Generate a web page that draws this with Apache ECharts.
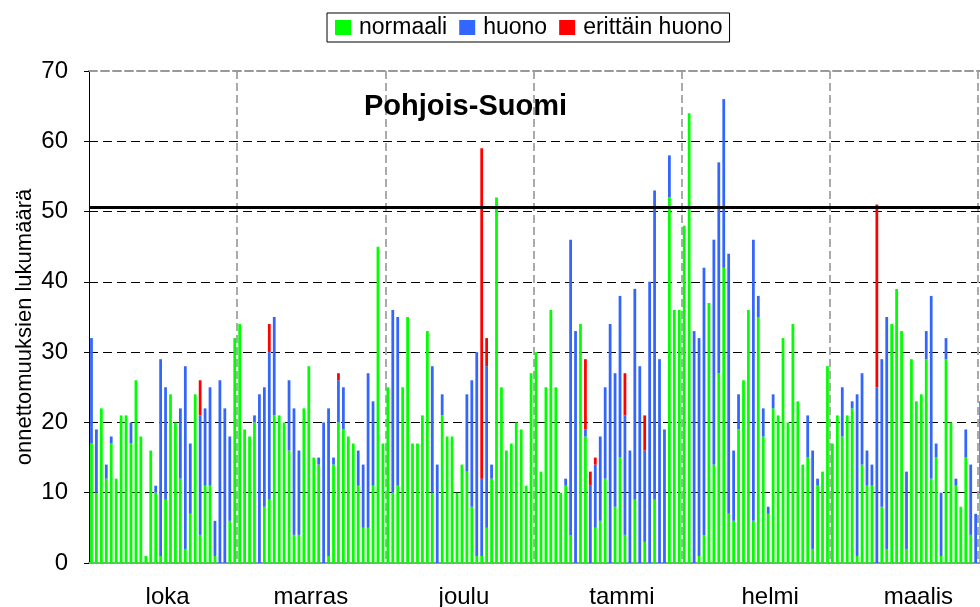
<!DOCTYPE html>
<html>
<head>
<meta charset="utf-8">
<script src="https://cdn.jsdelivr.net/npm/echarts@6/dist/echarts.min.js"></script>
<style>
  html, body { margin: 0; padding: 0; background: #fff; }
  #chart { width: 980px; height: 607px; }
</style>
</head>
<body>
<div id="chart"></div>
<script>
// kuukaudet ja päivät (1.10. - 31.3.)
const months = ['loka', 'marras', 'joulu', 'tammi', 'helmi', 'maalis']
const monthDays = [31, 30, 31, 31, 28, 31]
const monthNums = [10, 11, 12, 1, 2, 3]
const monthLabelIdx = [15, 44, 75, 107, 137, 167]
const limitValue = 50.6

// onnettomuudet / vrk
const normaali = [
  17, 10, 22, 12, 17, 12, 21, 21, 17, 26,
  18, 1, 16, 10, 1, 9, 24, 20, 12, 2,
  7, 24, 4, 11, 11, 1, 0, 0, 6, 32,
  34, 19, 18, 20, 0, 8, 9, 21, 21, 20,
  16, 4, 4, 22, 28, 15, 14, 0, 1, 14,
  20, 19, 18, 17, 11, 5, 5, 11, 45, 17,
  25, 10, 11, 25, 35, 17, 17, 21, 33, 10,
  0, 21, 18, 18, 10, 14, 13, 8, 1, 1,
  5, 12, 52, 25, 16, 17, 20, 19, 11, 27,
  30, 13, 25, 36, 25, 10, 11, 4, 0, 34,
  18, 0, 5, 6, 12, 0, 8, 15, 4, 0,
  9, 0, 3, 0, 9, 0, 0, 52, 36, 36,
  48, 64, 0, 1, 4, 37, 14, 27, 42, 7,
  6, 19, 26, 36, 6, 35, 18, 7, 22, 21,
  32, 20, 34, 23, 14, 15, 2, 11, 13, 28,
  17, 21, 18, 21, 22, 1, 14, 11, 11, 0,
  8, 2, 34, 39, 33, 2, 29, 23, 24, 29,
  12, 15, 1, 29, 20, 11, 8, 15, 4, 0,
  10
]
const huono = [
  15, 9, 0, 2, 1, 0, 0, 0, 3, 0,
  0, 0, 0, 1, 28, 16, 0, 0, 10, 26,
  10, 0, 17, 11, 14, 5, 26, 22, 12, 0,
  0, 0, 0, 1, 24, 17, 21, 14, 0, 0,
  10, 18, 12, 0, 0, 0, 1, 20, 21, 1,
  6, 6, 0, 0, 5, 9, 22, 12, 0, 0,
  0, 26, 24, 0, 0, 0, 0, 0, 0, 18,
  14, 3, 0, 0, 0, 0, 11, 18, 29, 11,
  23, 2, 0, 0, 0, 0, 0, 0, 0, 0,
  0, 0, 0, 0, 0, 0, 1, 42, 33, 0,
  1, 11, 9, 12, 13, 34, 19, 23, 17, 16,
  30, 28, 13, 40, 44, 29, 19, 6, 0, 0,
  0, 0, 33, 31, 38, 0, 32, 30, 24, 37,
  10, 5, 0, 0, 40, 3, 4, 1, 2, 0,
  0, 0, 0, 0, 0, 6, 14, 1, 0, 0,
  0, 0, 7, 0, 1, 23, 13, 5, 3, 25,
  21, 33, 0, 0, 0, 11, 0, 0, 0, 4,
  26, 2, 9, 3, 0, 1, 0, 4, 10, 7,
  13
]
const erittainHuono = [
  0, 0, 0, 0, 0, 0, 0, 0, 0, 0,
  0, 0, 0, 0, 0, 0, 0, 0, 0, 0,
  0, 0, 5, 0, 0, 0, 0, 0, 0, 0,
  0, 0, 0, 0, 0, 0, 4, 0, 0, 0,
  0, 0, 0, 0, 0, 0, 0, 0, 0, 0,
  1, 0, 0, 0, 0, 0, 0, 0, 0, 0,
  0, 0, 0, 0, 0, 0, 0, 0, 0, 0,
  0, 0, 0, 0, 0, 0, 0, 0, 0, 47,
  4, 0, 0, 0, 0, 0, 0, 0, 0, 0,
  0, 0, 0, 0, 0, 0, 0, 0, 0, 0,
  10, 2, 1, 0, 0, 0, 0, 0, 6, 0,
  0, 0, 5, 0, 0, 0, 0, 0, 0, 0,
  0, 0, 0, 0, 0, 0, 0, 0, 0, 0,
  0, 0, 0, 0, 0, 0, 0, 0, 0, 0,
  0, 0, 0, 0, 0, 0, 0, 0, 0, 0,
  0, 0, 0, 0, 0, 0, 0, 0, 0, 26,
  0, 0, 0, 0, 0, 0, 0, 0, 0, 0,
  0, 0, 0, 0, 0, 0, 0, 0, 0, 0,
  0
]

let days = []
monthDays.forEach(function (n, m) {
  for (let d = 1; d <= n; d++) {
    days.push(d + '.' + monthNums[m] + '.')
  }
})

const font = "'Liberation Sans', Arial, sans-serif"
let myChart = echarts.init(document.getElementById('chart'))
myChart.setOption({
  animation: false,
  textStyle: { fontFamily: font },
  title: {
    text: 'Pohjois-Suomi',
    left: 364,
    top: 92,
    padding: 0,
    textStyle: { fontSize: 29, fontWeight: 'bold', color: '#000', fontFamily: font }
  },
  legend: {
    data: ['normaali', 'huono', 'erittäin huono'],
    left: 327,
    top: 13,
    icon: 'rect',
    itemWidth: 16,
    itemHeight: 15,
    itemGap: 12,
    padding: [3, 7, 3, 8],
    borderColor: '#000',
    borderWidth: 1,
    textStyle: { fontSize: 23, color: '#000', fontFamily: font, padding: [0, 0, 0, 3] }
  },
  grid: {
    left: 89,
    top: 71,
    width: 899,
    bottom: 44,
    outerBoundsMode: 'none'
  },
  xAxis: [
    {
      type: 'category',
      data: days,
      axisLine: { lineStyle: { color: '#999', width: 2 } },
      axisTick: { show: false },
      axisLabel: {
        interval: function (i) { return monthLabelIdx.indexOf(i) >= 0 },
        formatter: function (v, i) { return months[monthLabelIdx.indexOf(i)] },
        fontSize: 24,
        color: '#000',
        margin: 22,
        padding: [0, 0, 0, 4]
      },
      splitLine: {
        show: true,
        interval: function (i) { return i > 0 && i % 30 === 0 },
        lineStyle: { color: '#aaa', width: 2, type: [8, 4] }
      }
    },
    {
      type: 'category',
      position: 'top',
      data: days,
      axisLine: { lineStyle: { color: '#999', width: 2, type: [8, 4] } },
      axisTick: { show: false },
      axisLabel: { show: false }
    }
  ],
  yAxis: {
    type: 'value',
    min: 0,
    max: 70,
    interval: 10,
    name: 'onnettomuuksien lukumäärä',
    nameLocation: 'middle',
    nameGap: 53,
    nameMoveOverlap: false,
    nameTextStyle: { fontSize: 22, color: '#000', fontFamily: font, padding: [0, 20, 0, 0] },
    axisLine: { show: true, lineStyle: { color: '#000', width: 1 } },
    axisTick: { show: true, length: 5, lineStyle: { color: '#000' } },
    axisLabel: { fontSize: 24, color: '#000', margin: 21 },
    splitLine: {
      show: true,
      lineStyle: {
        color: ['#000', '#000', '#000', '#000', '#000', '#000', '#000', 'rgba(0,0,0,0)'],
        width: 1,
        type: [9, 5]
      }
    }
  },
  series: [
    {
      name: 'normaali',
      type: 'bar',
      stack: 'total',
      data: normaali,
      barWidth: '56%',
      itemStyle: { color: '#00ff00' },
      markLine: {
        silent: true,
        symbol: 'none',
        label: { show: false },
        lineStyle: { color: '#000', width: 3, type: 'solid' },
        data: [{ yAxis: limitValue }]
      }
    },
    {
      name: 'huono',
      type: 'bar',
      stack: 'total',
      data: huono,
      barWidth: '56%',
      itemStyle: { color: '#3366ff' }
    },
    {
      name: 'erittäin huono',
      type: 'bar',
      stack: 'total',
      data: erittainHuono,
      barWidth: '56%',
      itemStyle: { color: '#ff0000' }
    }
  ]
})
</script>
</body>
</html>
